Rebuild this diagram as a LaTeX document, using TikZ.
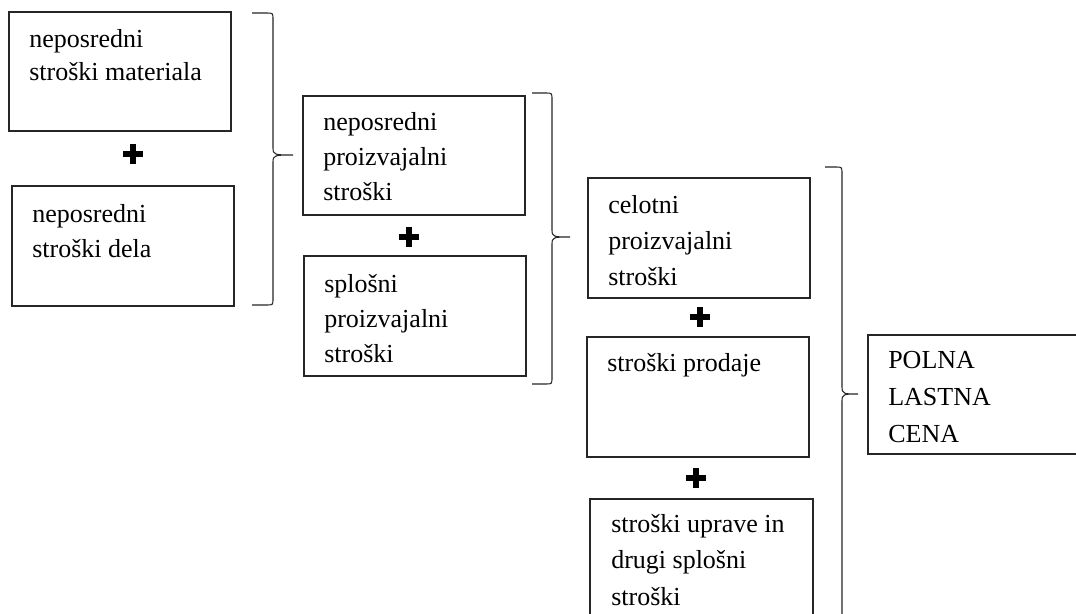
\documentclass[tikz,border=0pt]{standalone}
\usepackage{fontspec}
\setmainfont{Liberation Serif}
\tikzset{
  costbox/.style={draw=black!85, line width=0.8pt, inner sep=0pt, rectangle},
  lbl/.style={anchor=base west, inner sep=0pt, font=\fontsize{19.5}{24}\selectfont, text=black},
  bracepath/.style={draw=black!85, line width=0.8pt},
  plussign/.pic={\fill[black] (-10,-3.3) rectangle (10,3.3); \fill[black] (-3.3,-10) rectangle (3.3,10);}
}
\newcommand{\cbox}[5]{% name, x1, y1, x2, y2 (px)
  \node[costbox, minimum width={(#4-#2)*0.75pt}, minimum height={(#5-#3)*0.75pt}] (#1) at ({(#2+#4)/2},{(#3+#5)/2}) {};}
\newcommand{\brc}[6]{% xl, xv, xt, yt, ym, yb
  \draw[bracepath] (#1,#4) -- ({#2-6},#4) .. controls (#2,#4) .. (#2,{#4+7}) -- (#2,{#5-7})
    .. controls (#2,#5) and ({#2+2},#5) .. (#3,#5)
    .. controls ({#2+2},#5) and (#2,#5) .. (#2,{#5+7}) -- (#2,{#6-7})
    .. controls (#2,#6) .. ({#2-6},#6) -- (#1,#6);}
\begin{document}
\begin{tikzpicture}[x=0.75pt,y=-0.75pt]
\useasboundingbox (0,0) rectangle (1076,614);
\clip (0,0) rectangle (1076,614);
\fill[white] (0,0) rectangle (1076,614);
% boxes
\cbox{b1}{9}{12}{231}{131}
\cbox{b2}{12}{186}{234}{306}
\cbox{b3}{303}{96}{525}{215}
\cbox{b4}{304}{256}{526}{376}
\cbox{b5}{588}{178}{810}{298}
\cbox{b6}{587}{337}{809}{457}
\cbox{b7}{590}{499}{813}{650}
\cbox{b8}{868}{335}{1100}{454}
% texts
\foreach \t [count=\i from 0] in {neposredni, stroški materiala}
  \node[lbl] (t1-\i) at (29,{47+33*\i}) {\t};
\foreach \t [count=\i from 0] in {neposredni, stroški dela}
  \node[lbl] (t2-\i) at (32,{222+35*\i}) {\t};
\foreach \t [count=\i from 0] in {neposredni, proizvajalni, stroški}
  \node[lbl] (t3-\i) at (323,{130+35*\i}) {\t};
\foreach \t [count=\i from 0] in {splošni, proizvajalni, stroški}
  \node[lbl] (t4-\i) at (324,{292+35*\i}) {\t};
\foreach \t [count=\i from 0] in {celotni, proizvajalni, stroški}
  \node[lbl] (t5-\i) at (608,{213+36*\i}) {\t};
\node[lbl] (t6-0) at (607,371) {stroški prodaje};
\foreach \t [count=\i from 0] in {stroški uprave in, drugi splošni, stroški}
  \node[lbl] (t7-\i) at (611,{532+36.5*\i}) {\t};
\foreach \t [count=\i from 0] in {POLNA, LASTNA, CENA}
  \node[lbl] (t8-\i) at (888,{368+37*\i}) {\t};
% plus signs
\pic at (133,154) {plussign};
\pic at (409,237) {plussign};
\pic at (700,317) {plussign};
\pic at (696,478) {plussign};
% braces
\brc{252}{273}{293}{13}{155}{305}
\brc{532}{552}{570}{93}{237}{384}
\brc{825}{842}{858}{167}{394}{900}
\end{tikzpicture}
\end{document}
